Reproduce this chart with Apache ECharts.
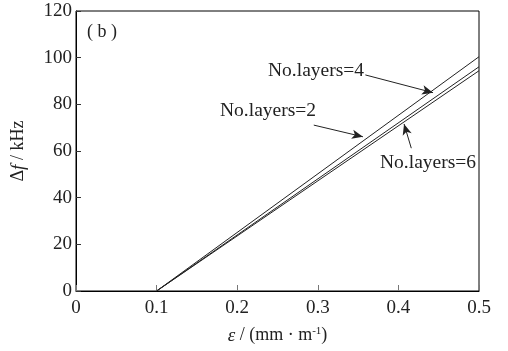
<!DOCTYPE html>
<html>
<head>
<meta charset="utf-8">
<script src="https://cdn.jsdelivr.net/npm/echarts@6/dist/echarts.min.js"></script>
<style>
  html, body { margin: 0; padding: 0; background: #fff; }
  #main { width: 508px; height: 351px; }
</style>
</head>
<body>
<div id="main"></div>
<script>
// strain (mm/m) vs frequency shift (kHz)
const strain = [0.1, 0.5];
const layers2 = [0, 100.4];
const layers4 = [0, 96.1];
const layers6 = [0, 94.4];

// annotation arrows: [from, to] in data coords
const arrow2 = [[0.295, 71.1], [0.356, 66.1]];
const arrow4 = [[0.359, 92.6], [0.443, 85.0]];
const arrow6 = [[0.416, 61.2], [0.407, 71.6]];

const font = "'Liberation Serif', 'Times New Roman', serif";
const ink = "#222";

const chart = echarts.init(document.getElementById("main"));

const mkSeries = (name, ys) => ({
  name: name,
  type: "line",
  data: strain.map((x, i) => [x, ys[i]]),
  showSymbol: false,
  lineStyle: { color: ink, width: 1 },
  silent: true
});

const arrowLine = (a) => ({
  type: "line",
  data: [],
  silent: true,
  markLine: {
    silent: true,
    symbol: ["none", "arrow"],
    symbolSize: [7, 11],
    label: { show: false },
    lineStyle: { color: ink, width: 1, type: "solid" },
    data: [[{ coord: a[0] }, { coord: a[1] }]]
  }
});

chart.setOption({
  animation: false,
  grid: {
    left: 76, right: 29, top: 11, bottom: 60,
    show: true, borderColor: "#000", borderWidth: 1
  },
  xAxis: {
    type: "value",
    min: 0, max: 0.5, interval: 0.1,
    name: "{i|ε}{n| / (mm · m}{s|-1}{n|)}",
    nameLocation: "middle",
    nameGap: 35,
    nameTextStyle: {
      rich: {
        i: { fontFamily: font, fontStyle: "italic", fontSize: 19, color: ink },
        n: { fontFamily: font, fontSize: 18, color: ink },
        s: { fontFamily: font, fontSize: 11, color: ink, verticalAlign: "top", padding: [0, 0, 8, 0] }
      }
    },
    axisLine: { lineStyle: { color: "#000", width: 1 } },
    axisTick: { inside: true, length: 6, lineStyle: { color: "#777" } },
    axisLabel: { fontFamily: font, fontSize: 19, color: ink, margin: 8 },
    splitLine: { show: false }
  },
  yAxis: {
    type: "value",
    min: 0, max: 120, interval: 20,
    name: "{n|Δ}{i|f }{n|/ kHz}",
    nameLocation: "middle",
    nameRotate: 90,
    nameGap: 48,
    nameTextStyle: {
      rich: {
        i: { fontFamily: font, fontStyle: "italic", fontSize: 19, color: ink },
        n: { fontFamily: font, fontSize: 18, color: ink }
      }
    },
    axisLine: { lineStyle: { color: "#000", width: 1 } },
    axisTick: { inside: true, length: 5, lineStyle: { color: "#333" } },
    axisLabel: { fontFamily: font, fontSize: 19, color: ink, margin: 4 },
    splitLine: { show: false }
  },
  graphic: [
    { type: "text", left: 87, top: 23, style: { text: "( b )", font: "18px " + font, fill: ink } },
    { type: "text", left: 268, top: 61, style: { text: "No.layers=4", font: "19.5px " + font, fill: ink } },
    { type: "text", left: 220, top: 101, style: { text: "No.layers=2", font: "19.5px " + font, fill: ink } },
    { type: "text", left: 380, top: 153, style: { text: "No.layers=6", font: "19.5px " + font, fill: ink } }
  ],
  series: [
    mkSeries("No.layers=2", layers2),
    mkSeries("No.layers=4", layers4),
    mkSeries("No.layers=6", layers6),
    arrowLine(arrow2),
    arrowLine(arrow4),
    arrowLine(arrow6)
  ]
});
</script>
</body>
</html>
